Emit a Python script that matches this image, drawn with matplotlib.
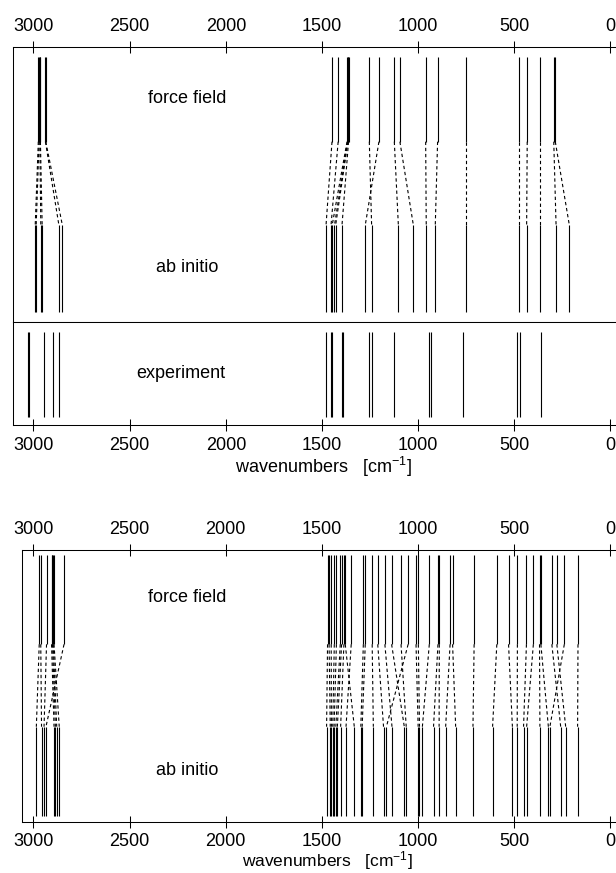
import matplotlib
matplotlib.use("Agg")
import matplotlib.pyplot as plt

plt.rcParams['font.family'] = ['Liberation Sans', 'DejaVu Sans']
plt.rcParams['mathtext.fontset'] = 'custom'
plt.rcParams['mathtext.rm'] = 'Liberation Sans'
plt.rcParams['mathtext.it'] = 'Liberation Sans:italic'
plt.rcParams['mathtext.bf'] = 'Liberation Sans:bold'

# --- data (wavenumbers, cm^-1); force field line i is linked to ab initio line i
ff_top = [2975, 2971, 2967, 2964, 2938, 2936,
          1448, 1416, 1370, 1367, 1365, 1362, 1254, 1204, 1124, 1095,
          961, 899, 752, 475, 433, 366, 295, 287]
ai_top = [2991, 2986, 2962, 2955, 2868, 2850,
          1479, 1453, 1447, 1435, 1429, 1396, 1242, 1275, 1103, 1025,
          958, 911, 752, 475, 436, 366, 283, 214]
exp_top = [3026, 3021, 2946, 2897, 2868,
           1481, 1455, 1447, 1395, 1390, 1256, 1242, 1124, 945, 935,
           765, 488, 469, 363]

ff_bot = [2970, 2962, 2932, 2906, 2901, 2897, 2893, 2841,
          1471, 1463, 1452, 1436, 1425, 1405, 1398, 1386, 1379, 1348,
          1285, 1275, 1239, 1210, 1173, 1138, 1089, 1052,
          1011, 999, 942, 897, 890, 834, 821, 709, 591, 530, 484,
          437, 401, 369, 362, 305, 279, 240, 169]
ai_bot = [2985, 2958, 2945, 2893, 2886, 2879, 2866, 2935,
          1476, 1457, 1451, 1444, 1437, 1428, 1420, 1403, 1332, 1375,
          1298, 1291, 1233, 1180, 1136, 1072, 1062, 1165,
          1000, 993, 978, 920, 891, 857, 805, 715, 613, 510, 485,
          452, 436, 367, 323, 259, 233, 315, 171]

ticks = [0, 500, 1000, 1500, 2000, 2500, 3000]
xlabel = 'wavenumbers   [cm$^{-1}$]'

W, H = 616, 873
fig = plt.figure(figsize=(W / 100, H / 100), dpi=100)


def add_box(left, top, right, bottom):
    # pixel box -> figure fraction
    return fig.add_axes([left / W, 1 - bottom / H, (right - left) / W, (bottom - top) / H])


def style(ax, x0, top, bottom):
    ax.set_xlim(x0, -117)
    ax.set_ylim(0, 1)
    ax.set_yticks([])
    ax.set_xticks(ticks)
    ax.tick_params(axis='x', direction='inout', length=8.4, width=0.75,
                   labelsize=13, pad=4.3, top=top, labeltop=top,
                   bottom=bottom, labelbottom=bottom)
    for s in ax.spines.values():
        s.set_linewidth(0.75)


def draw_modes(ax, ff, ai, ff_lo, ff_hi, ai_lo, ai_hi):
    ax.vlines(ff, ff_lo, ff_hi, color='k', lw=0.8)
    ax.vlines(ai, ai_lo, ai_hi, color='k', lw=0.8)
    for a, b in zip(ff, ai):
        ax.plot([a, b], [ff_lo, ai_hi], color='k', lw=0.8, ls=(0, (3, 2.5)))


# top panel: force field / ab initio
ax1 = add_box(13.3, 47.3, 633, 321.7)
style(ax1, 3105, True, False)
draw_modes(ax1, ff_top, ai_top, 0.656, 0.966, 0.036, 0.352)
ax1.text(2200, 0.815, 'force field', ha='center', va='center', fontsize=13)
ax1.text(2200, 0.199, 'ab initio', ha='center', va='center', fontsize=13)

# top panel: experiment
ax2 = add_box(13.3, 321.7, 633, 425)
style(ax2, 3105, False, True)
ax2.vlines(exp_top, 0.08, 0.903, color='k', lw=0.8)
ax2.text(2235, 0.503, 'experiment', ha='center', va='center', fontsize=13)
ax2.set_xlabel(xlabel, fontsize=13, labelpad=1)

# bottom panel
ax3 = add_box(22.3, 549.5, 633, 821.5)
style(ax3, 3058, True, True)
draw_modes(ax3, ff_bot, ai_bot, 0.6515, 0.978, 0.022, 0.3485)
ax3.text(2200, 0.823, 'force field', ha='center', va='center', fontsize=13)
ax3.text(2200, 0.187, 'ab initio', ha='center', va='center', fontsize=13)
ax3.set_xlabel(xlabel, fontsize=12.5, labelpad=-0.8)

fig.savefig('out.png', dpi=100)
